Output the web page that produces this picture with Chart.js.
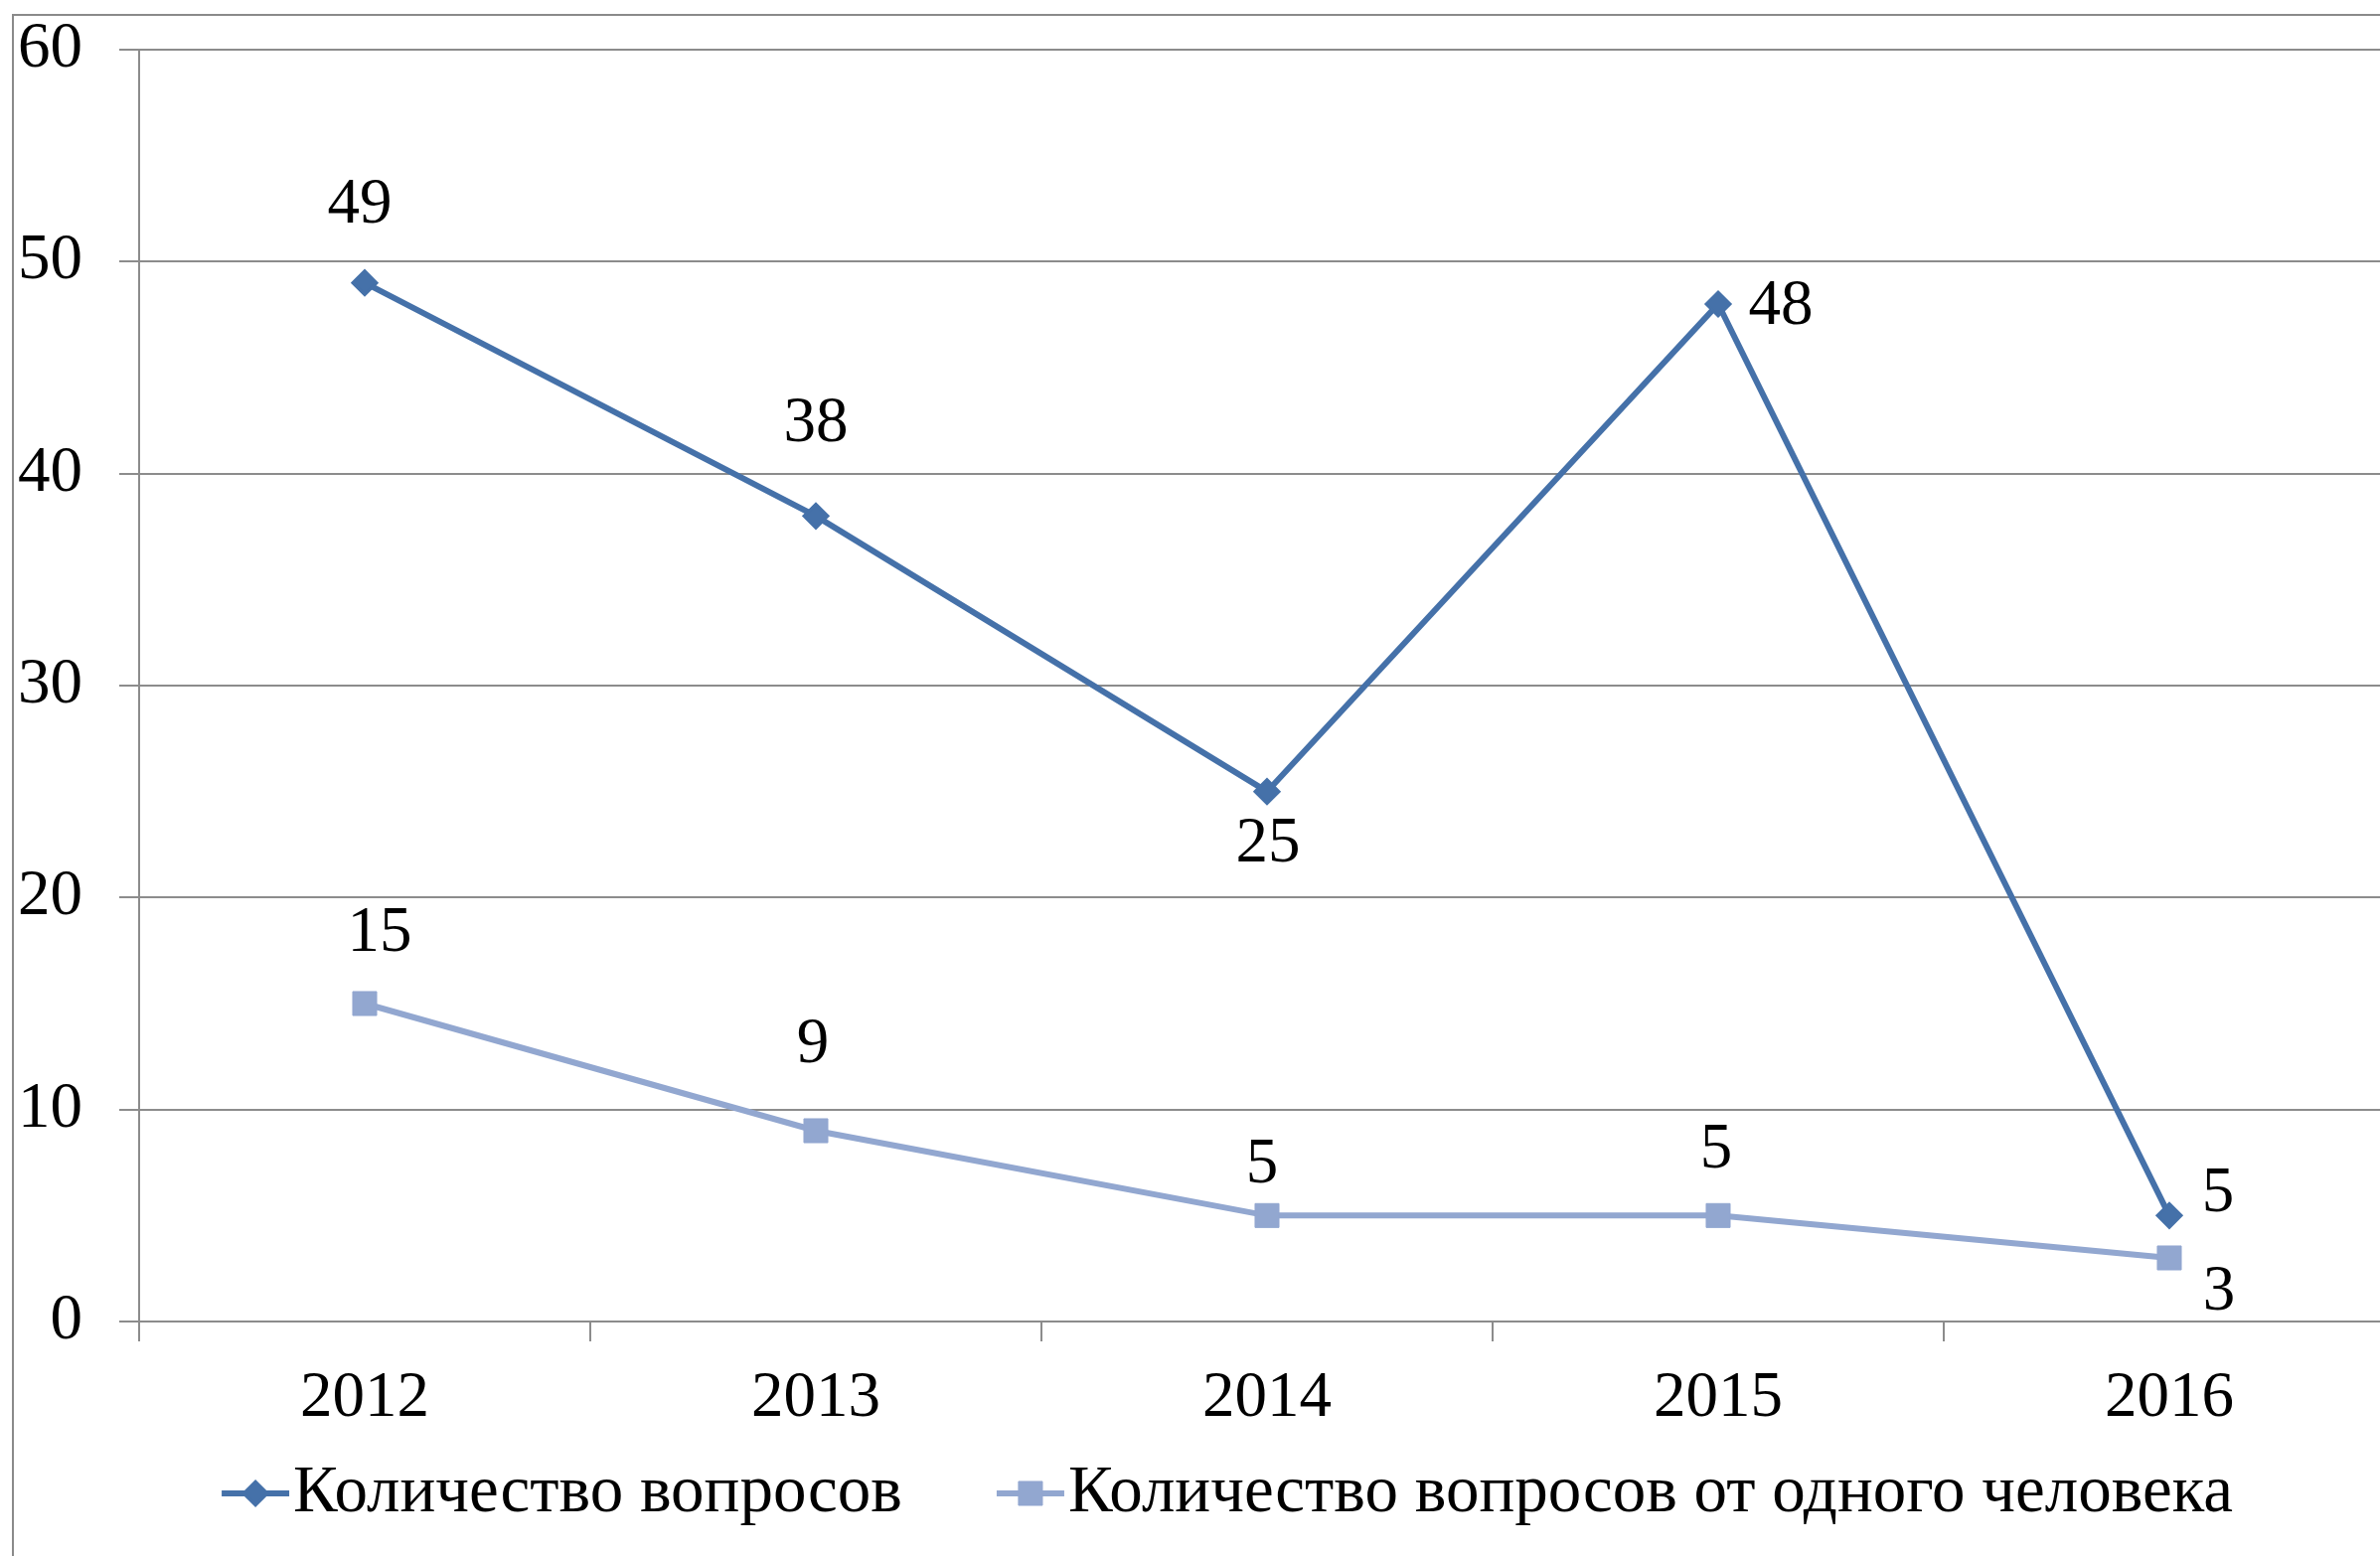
<!DOCTYPE html>
<html>
<head>
<meta charset="utf-8">
<script src="https://cdn.jsdelivr.net/npm/chart.js@4.4.1/dist/chart.umd.min.js"></script>
<style>
html,body{margin:0;padding:0;overflow:hidden;background:#fff;width:2395px;height:1566px}
#wrap{position:absolute;left:0;top:0;width:2470px;height:1566px}
canvas{display:block}
</style>
</head>
<body>
<div id="wrap"><canvas id="c" width="2470" height="1566" style="width:2470px;height:1566px"></canvas></div>
<script>
// ---- data ----
const categories = ['2012', '2013', '2014', '2015', '2016'];
const questionsTotal = [49, 38, 25, 48, 5];
const questionsPerPerson = [15, 9, 5, 5, 3];
const yTickValues = [0, 10, 20, 30, 40, 50, 60];
const seriesNames = ['Количество вопросов', 'Количество вопросов от одного человека'];

// ---- style ----
const FONT = '"Liberation Serif", "Times New Roman", serif';
const FS = 65;
const LEGEND_FS = 67;
const GRID = '#8c8c8c';
const COLOR_A = '#4571a9';
const COLOR_B = '#92a7d0';
// data label offsets relative to each point (dx, dy) in px
const labelOffsetsA = [[-5, -78], [0, -92], [1, 53], [63, 3], [49, -21]];
const labelOffsetsB = [[15, -70], [-3, -86], [-5, -50], [-2, -65], [50, 35]];

const framePlugin = {
  id: 'frame',
  beforeDraw(chart) {
    const ctx = chart.ctx;
    ctx.save();
    ctx.fillStyle = '#fff';
    ctx.fillRect(0, 0, chart.width, chart.height);
    ctx.strokeStyle = '#8a8a8a';
    ctx.lineWidth = 2;
    ctx.strokeRect(13, 15, chart.width + 20, chart.height + 20);
    ctx.restore();
  }
};

const labelPlugin = {
  id: 'valueLabels',
  afterDatasetsDraw(chart) {
    const ctx = chart.ctx;
    ctx.save();
    ctx.font = FS + 'px ' + FONT;
    ctx.fillStyle = '#000';
    ctx.textAlign = 'center';
    ctx.textBaseline = 'middle';
    chart.data.datasets.forEach((ds, di) => {
      const meta = chart.getDatasetMeta(di);
      const offs = ds.labelOffsets;
      meta.data.forEach((pt, i) => {
        const o = offs[i];
        ctx.fillText(String(ds.data[i]), pt.x + o[0], pt.y + o[1]);
      });
    });
    ctx.restore();
  }
};

const legendPlugin = {
  id: 'customLegend',
  afterDraw(chart) {
    const ctx = chart.ctx;
    ctx.save();
    ctx.font = LEGEND_FS + 'px ' + FONT;
    const markerW = 68, gapText = 4, itemGap = 95, y = 1503;
    const items = chart.data.datasets.map(ds => ({
      ds, w: markerW + gapText + ctx.measureText(ds.label).width
    }));
    const total = items.reduce((a, b) => a + b.w, 0) + itemGap * (items.length - 1);
    let x = chart.width / 2 - total / 2;
    items.forEach(it => {
      const ds = it.ds;
      ctx.strokeStyle = ds.borderColor;
      ctx.lineWidth = ds.borderWidth;
      ctx.beginPath();
      ctx.moveTo(x, y);
      ctx.lineTo(x + markerW, y);
      ctx.stroke();
      ctx.fillStyle = ds.pointBackgroundColor;
      ctx.strokeStyle = ds.pointBorderColor;
      ctx.lineWidth = ds.pointBorderWidth;
      Chart.helpers.drawPoint(ctx, {
        pointStyle: ds.pointStyle, rotation: 0,
        radius: ds.pointRadius, borderWidth: ds.pointBorderWidth
      }, x + markerW / 2, y);
      ctx.fillStyle = '#000';
      ctx.textAlign = 'left';
      ctx.textBaseline = 'middle';
      ctx.fillText(ds.label, x + markerW + gapText, y);
      x += it.w + itemGap;
    });
    ctx.restore();
  }
};

new Chart(document.getElementById('c'), {
  type: 'line',
  data: {
    labels: categories,
    datasets: [
      {
        label: seriesNames[0],
        data: questionsTotal,
        borderColor: COLOR_A,
        backgroundColor: COLOR_A,
        borderWidth: 6,
        pointStyle: 'rectRot',
        pointRadius: 12,
        pointBorderWidth: 3,
        pointBackgroundColor: COLOR_A,
        pointBorderColor: COLOR_A,
        tension: 0,
        labelOffsets: labelOffsetsA
      },
      {
        label: seriesNames[1],
        data: questionsPerPerson,
        borderColor: COLOR_B,
        backgroundColor: COLOR_B,
        borderWidth: 6,
        pointStyle: 'rect',
        pointRadius: 17,
        pointBorderWidth: 1,
        pointBackgroundColor: COLOR_B,
        pointBorderColor: COLOR_B,
        tension: 0,
        labelOffsets: labelOffsetsB
      }
    ]
  },
  options: {
    responsive: false,
    animation: false,
    devicePixelRatio: 1,
    layout: { padding: { top: 50, right: 60, bottom: 100, left: 0 } },
    plugins: { legend: { display: false }, tooltip: { enabled: false } },
    scales: {
      x: {
        type: 'category',
        offset: true,
        grid: { offset: true, drawOnChartArea: false, drawTicks: true, tickLength: 20, color: GRID, lineWidth: 2 },
        border: { display: true, color: GRID, width: 2 },
        ticks: { font: { family: FONT, size: FS }, color: '#000', padding: 19, maxRotation: 0, autoSkip: false },
        afterFit(s) { s.height = 136; s.paddingLeft = 0; s.paddingRight = 0; }
      },
      y: {
        min: 0,
        max: 60,
        afterBuildTicks(s) { s.ticks = yTickValues.map(v => ({ value: v })); },
        grid: { drawOnChartArea: true, drawTicks: true, tickLength: 20, color: GRID, lineWidth: 2 },
        border: { display: true, color: GRID, width: 2 },
        ticks: { font: { family: FONT, size: FS }, color: '#000', padding: 37 },
        afterFit(s) { s.width = 140; s.paddingTop = 0; s.paddingBottom = 0; }
      }
    }
  },
  plugins: [framePlugin, labelPlugin, legendPlugin]
});
</script>
</body>
</html>
